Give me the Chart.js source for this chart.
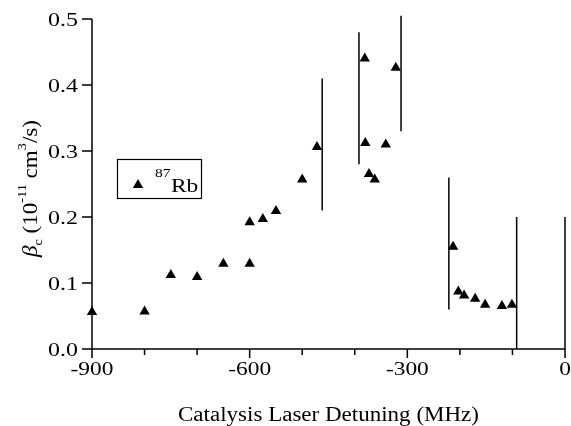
<!DOCTYPE html>
<html><head><meta charset="utf-8">
<script src="https://cdn.jsdelivr.net/npm/chart.js@4"></script>
<style>html,body{margin:0;padding:0;background:#fff}#wrap{width:571px;height:426px}
.t{font-family:"Liberation Serif";font-size:20px;position:absolute;left:-9999px}</style>
</head><body><span class="t">Catalysis 0123 β</span><div id="wrap"><canvas id="c" width="571" height="426"></canvas></div>
<script>
// ---- data ----
const detuning = [-900,-800,-750,-700,-650,-600,-600,-575,-550,-500,-472,-381,-380,-373,-362,-341,-322,-213,-203,-192,-171,-152,-120,-101];
const beta     = [0.056,0.057,0.112,0.109,0.129,0.129,0.192,0.197,0.209,0.257,0.306,0.440,0.312,0.265,0.257,0.310,0.426,0.155,0.087,0.081,0.076,0.067,0.065,0.067];
const barX    = [-462,-392,-312,-221,-92,0];
const barLow  = [0.21,0.28,0.33,0.06,0,0];
const barHigh = [0.41,0.48,0.505,0.26,0.2,0.2];
const xTicksMajor = [-900,-600,-300,0];
const xTicksMinor = [-800,-700,-500,-400,-200,-100];
const yTicks = [0,0.1,0.2,0.3,0.4,0.5];
const legendSup = '87';
const legendMain = 'Rb';
const xTitle = 'Catalysis Laser Detuning (MHz)';

const FONT = '"Liberation Serif"';

const points = detuning.map((x,i)=>({x:x, y:beta[i]}));
const barSets = barX.map((x,i)=>({
  type:'line',
  data:[{x:x,y:barLow[i]},{x:x,y:barHigh[i]}],
  borderColor:'#000', borderWidth:1.5, pointRadius:0, clip:false, order:2
}));

function fnt(size, style){ return (style ? style+' ' : '') + size + 'px ' + FONT; }

function txt(ctx, s, x, y, size, align, sx, style){
  ctx.save();
  ctx.font = fnt(size, style);
  ctx.textAlign = align; ctx.textBaseline = 'alphabetic';
  ctx.translate(x,y); ctx.scale(sx,1);
  ctx.fillStyle='#000';
  ctx.fillText(s,0,0);
  ctx.restore();
}

const decor = {
  id:'decor',
  afterDraw(chart){
    const ctx = chart.ctx, xs = chart.scales.x, ys = chart.scales.y;
    const y0 = ys.getPixelForValue(0), yTop = ys.getPixelForValue(0.5);
    const xL = xs.getPixelForValue(-900), xR = xs.getPixelForValue(0);
    ctx.save();
    ctx.strokeStyle='#000'; ctx.lineWidth=1.5;
    ctx.beginPath();
    ctx.moveTo(xL, yTop); ctx.lineTo(xL, y0);
    ctx.moveTo(xL, y0); ctx.lineTo(xR, y0);
    yTicks.forEach(v=>{ const p=ys.getPixelForValue(v); ctx.moveTo(xL-10,p); ctx.lineTo(xL,p); });
    xTicksMajor.forEach(v=>{ const p=xs.getPixelForValue(v); ctx.moveTo(p,y0); ctx.lineTo(p,y0+9); });
    xTicksMinor.forEach(v=>{ const p=xs.getPixelForValue(v); ctx.moveTo(p,y0); ctx.lineTo(p,y0+6); });
    ctx.stroke();
    ctx.restore();
    yTicks.forEach(v=>{ txt(ctx, v.toFixed(1), xL-14, ys.getPixelForValue(v)+7, 19, 'right', 1.26); });
    xTicksMajor.forEach(v=>{ txt(ctx, String(v), xs.getPixelForValue(v), y0+26, 18, 'center', 1.3); });
    ctx.save(); ctx.font = fnt(20); const w = ctx.measureText(xTitle).width; ctx.restore();
    txt(ctx, xTitle, (xL+xR)/2, 421, 20, 'center', 301/w);
    // y title (rotated)
    ctx.save();
    ctx.translate(37, 257); ctx.rotate(-Math.PI/2);
    const parts = [
      {s:'β', size:21, dy:0, style:'italic'},
      {s:'c', size:13, dy:5, style:''},
      {s:' (10', size:21, dy:0, style:''},
      {s:'-11', size:13, dy:-11, style:''},
      {s:' cm', size:21, dy:0, style:''},
      {s:'3', size:13, dy:-11, style:''},
      {s:'/s)', size:21, dy:0, style:''}
    ];
    let tot = 0;
    parts.forEach(p=>{ ctx.font = fnt(p.size, p.style); p.w = ctx.measureText(p.s).width; tot += p.w; });
    const k = 137/tot;
    ctx.scale(k,1);
    let cx = 0;
    ctx.fillStyle='#000'; ctx.textBaseline='alphabetic'; ctx.textAlign='left';
    parts.forEach(p=>{ ctx.font = fnt(p.size, p.style); ctx.fillText(p.s, cx, p.dy); cx += p.w; });
    ctx.restore();
    // legend
    ctx.save();
    ctx.strokeStyle='#000'; ctx.lineWidth=1.2;
    ctx.strokeRect(117.5,159.5,84,39);
    const r=6, tx=138, ty=185;
    ctx.fillStyle='#000';
    ctx.beginPath();
    ctx.moveTo(tx, ty-r);
    ctx.lineTo(tx + r*Math.sin(2*Math.PI/3), ty - r*Math.cos(2*Math.PI/3));
    ctx.lineTo(tx + r*Math.sin(4*Math.PI/3), ty - r*Math.cos(4*Math.PI/3));
    ctx.closePath(); ctx.fill();
    ctx.restore();
    txt(ctx, legendSup, 155, 177, 13, 'left', 1.2);
    txt(ctx, legendMain, 171, 192, 18, 'left', 1.3);
  }
};

function build(){
  new Chart(document.getElementById('c'), {
    type:'scatter',
    data:{ datasets:[
      { type:'scatter', data:points, pointStyle:'triangle', pointRadius:6, pointHoverRadius:6,
        backgroundColor:'#000', borderColor:'#000', borderWidth:0, order:1, clip:false },
      ...barSets
    ]},
    options:{
      responsive:false, animation:false, devicePixelRatio:1,
      layout:{ padding:{ left:92, right:6, top:19, bottom:77 } },
      plugins:{ legend:{display:false}, tooltip:{enabled:false} },
      scales:{
        x:{ type:'linear', min:-900, max:0, display:false },
        y:{ type:'linear', min:0, max:0.5, display:false }
      }
    },
    plugins:[decor]
  });
}
Promise.all([
  document.fonts.load('20px "Liberation Serif"'),
  document.fonts.load('italic 20px "Liberation Serif"')
]).then(build, build);
</script></body></html>
